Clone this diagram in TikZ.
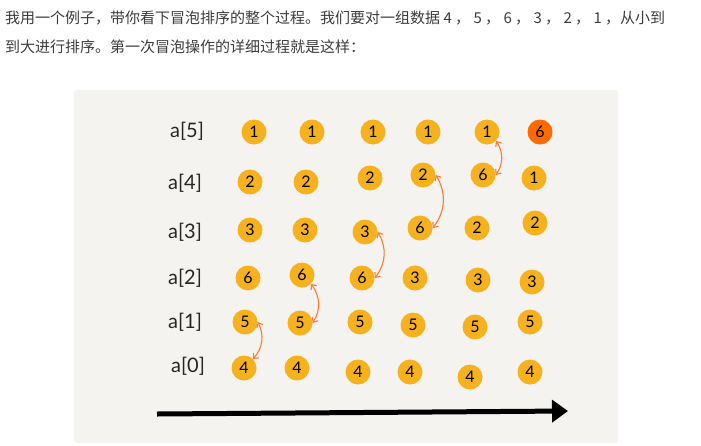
\documentclass[tikz,border=0pt]{standalone}
\usepackage{xcolor}
\usepackage{tikz}
\usepackage{fontspec}
\setmainfont{Lato}
\newfontfamily\cjkfont{Noto Sans CJK SC}
\definecolor{paneltone}{RGB}{244, 243, 239}
\definecolor{blobyellow}{RGB}{245, 178, 30}
\definecolor{hotorange}{RGB}{255, 106, 0}
\definecolor{swaporange}{RGB}{255, 122, 48}
\definecolor{introgray}{RGB}{60, 60, 60}
\usetikzlibrary{arrows.meta, positioning, calc}

\begin{document}
\begin{tikzpicture}[
    x=1pt, y=-1pt,
    intro/.style={anchor=west, inner sep=0pt, text=introgray, font=\cjkfont\fontsize{15}{15}\selectfont},
    slot/.style={font=\fontsize{20}{20}\selectfont, inner sep=0pt, text=black!85},
    blob/.style={circle, fill=blobyellow, minimum size=25pt, inner sep=0pt, font=\fontsize{16}{16}\selectfont},
    done/.style={blob, fill=hotorange},
    swapline/.style={draw=swaporange, line width=1.1pt, {Straight Barb[length=4pt,width=7pt]}-{Straight Barb[length=4pt,width=7pt]}, bend left=35}
]
    \useasboundingbox (0,0) rectangle (701,445);

    % Intro text
    \node[intro] (line1) at (5,18) {我用一个例子，带你看下冒泡排序的整个过程。我们要对一组数据\makebox[1em]{4}，\makebox[1em]{5}，\makebox[1em]{6}，\makebox[1em]{3}，\makebox[1em]{2}，\makebox[1em]{1}，从小到};
    \node[intro] (line2) at (5,47) {到大进行排序。第一次冒泡操作的详细过程就是这样：};

    % Panel
    \fill[paneltone, rounded corners=3pt] (74,90) rectangle (618,443);

    % Array slots
    \node[slot] (a5) at (187,131) {a[5]};
    \node[slot] (a4) at (185,183) {a[4]};
    \node[slot] (a3) at (185,232) {a[3]};
    \node[slot] (a2) at (185,278) {a[2]};
    \node[slot] (a1) at (185,322) {a[1]};
    \node[slot] (a0) at (188,366) {a[0]};

    % Step 1
    \node[blob] (c1r5) at (254,132) {1};
    \node[blob] (c1r4) at (250,182) {2};
    \node[blob] (c1r3) at (250,230) {3};
    \node[blob] (c1r2) at (248,278) {6};
    \node[blob] (c1r1) at (245,322) {5};
    \node[blob] (c1r0) at (244,368) {4};

    % Step 2
    \node[blob] (c2r5) at (312,132) {1};
    \node[blob] (c2r4) at (306,182) {2};
    \node[blob] (c2r3) at (305,230) {3};
    \node[blob] (c2r2) at (302,275) {6};
    \node[blob] (c2r1) at (300,323) {5};
    \node[blob] (c2r0) at (297,368) {4};

    % Step 3
    \node[blob] (c3r5) at (373,132) {1};
    \node[blob] (c3r4) at (370,178) {2};
    \node[blob] (c3r3) at (365,232) {3};
    \node[blob] (c3r2) at (362,278) {6};
    \node[blob] (c3r1) at (360,322) {5};
    \node[blob] (c3r0) at (358,372) {4};

    % Step 4
    \node[blob] (c4r5) at (428,132) {1};
    \node[blob] (c4r4) at (423,175) {2};
    \node[blob] (c4r3) at (420,228) {6};
    \node[blob] (c4r2) at (415,278) {3};
    \node[blob] (c4r1) at (413,325) {5};
    \node[blob] (c4r0) at (410,372) {4};

    % Step 5
    \node[blob] (c5r5) at (487,132) {1};
    \node[blob] (c5r4) at (483,175) {6};
    \node[blob] (c5r3) at (477,228) {2};
    \node[blob] (c5r2) at (478,280) {3};
    \node[blob] (c5r1) at (475,327) {5};
    \node[blob] (c5r0) at (470,377) {4};

    % Step 6
    \node[done] (c6r5) at (540,132) {6};
    \node[blob] (c6r4) at (534,178) {1};
    \node[blob] (c6r3) at (535,223) {2};
    \node[blob] (c6r2) at (532,282) {3};
    \node[blob] (c6r1) at (530,322) {5};
    \node[blob] (c6r0) at (530,372) {4};

    % Compare and swap
    \draw[swapline] (c1r1.east) to (c1r0.north east);
    \draw[swapline] (c2r2.south east) to (c2r1.east);
    \draw[swapline] (c3r3.east) to (c3r2.east);
    \draw[swapline] (c4r4.east) to (c4r3.east);
    \draw[swapline] (c5r5.south east) to (c5r4.east);

    % Time axis
    \coordinate (axisstart) at (157,414);
    \coordinate (axisend) at (568,411);
    \draw[line width=5pt, -{Triangle[length=16pt,width=22pt]}] (axisstart) -- (axisend);

\end{tikzpicture}
\end{document}
